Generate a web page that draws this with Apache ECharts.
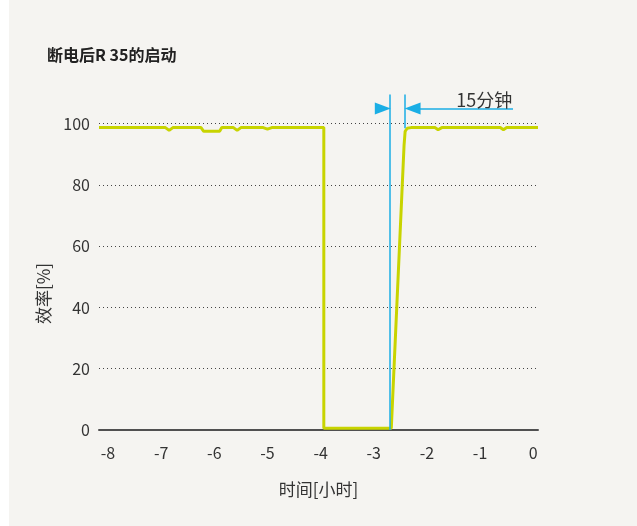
<!DOCTYPE html>
<html>
<head>
<meta charset="utf-8">
<script src="https://cdn.jsdelivr.net/npm/echarts@6/dist/echarts.min.js"></script>
<style>
  body { margin: 0; background: #fff; }
  #main { width: 637px; height: 526px; background: linear-gradient(to right, #fff 9px, #f5f4f1 9px); }
</style>
</head>
<body>
<div id="main"></div>
<script>
var chart = echarts.init(document.getElementById('main'));

// 效率曲线 (x = 时间[小时], y = 效率[%])
var timeHours = [-8.17, -6.92, -6.85, -6.78, -6.25, -6.2, -5.9, -5.86, -5.64, -5.57, -5.5, -5.08, -5.0, -4.92,
    -3.94, -3.94, -2.67, -2.43, -2.41, -2.37, -2.3, -1.85, -1.79, -1.72, -0.62, -0.56, -0.5, 0.09];
var efficiency = [98.7, 98.7, 97.8, 98.7, 98.7, 97.5, 97.5, 98.7, 98.7, 97.8, 98.7, 98.7, 98.2, 98.7,
    98.7, 0.6, 0.6, 93, 97.5, 98.5, 98.7, 98.7, 98.0, 98.7, 98.7, 98.0, 98.7, 98.7];

var xTicks = [-8, -7, -6, -5, -4, -3, -2, -1, 0];
var yTicks = [0, 20, 40, 60, 80, 100];

// 15分钟 标注
var markStart = -2.69;
var markEnd = -2.41;
var arrowY = 104.9;
var markTop = 109.5;
var markLabel = '15分钟';

var lineData = [];
for (var i = 0; i < timeHours.length; i++) {
    lineData.push([timeHours[i], efficiency[i]]);
}

var blue = '#1aaee5';
var font = '"Noto Sans CJK SC", "Noto Sans", sans-serif';

var option = {
    animation: false,
    textStyle: { fontFamily: font },
    title: {
        text: '断电后R 35的启动',
        left: 42,
        top: 42,
        textStyle: { fontSize: 16, fontWeight: 'bold', color: '#222', fontFamily: font }
    },
    grid: { left: 99, right: 99, top: 93, bottom: 96 },
    xAxis: {
        type: 'value',
        min: -8.17,
        max: 0.09,
        name: '时间[小时]',
        nameLocation: 'middle',
        nameGap: 51,
        nameTextStyle: { fontSize: 17, color: '#333' },
        axisLine: { show: true, onZero: false, lineStyle: { color: '#505050', width: 2 } },
        axisTick: { show: false, customValues: xTicks },
        splitLine: { show: false },
        axisLabel: { customValues: xTicks, fontSize: 16, color: '#333', margin: 15 }
    },
    yAxis: {
        type: 'value',
        min: 0,
        max: 110,
        name: '效率[%]',
        nameLocation: 'middle',
        nameGap: 39,
        nameTextStyle: { fontSize: 17, color: '#333', padding: [0, 64, 0, 0] },
        axisLine: { show: false },
        axisTick: { show: false, customValues: yTicks },
        axisLabel: { customValues: yTicks, fontSize: 16, color: '#333', margin: 9 },
        splitLine: { show: true, lineStyle: { color: '#444', type: [1, 3], width: 1 } }
    },
    series: [
        {
            type: 'line',
            data: lineData,
            symbol: 'none',
            lineStyle: { color: '#c8d400', width: 3 },
            z: 3,
            markLine: {
                silent: true,
                symbol: 'none',
                animation: false,
                label: { show: false },
                lineStyle: { color: blue, width: 1.5, type: 'solid' },
                data: [
                    [{ coord: [markStart, 0] }, { coord: [markStart, markTop] }],
                    [{ coord: [markEnd, 98.5] }, { coord: [markEnd, markTop] }],
                    [{ coord: [-2.97, arrowY], symbol: 'none' },
                     { coord: [markStart - 0.14, arrowY], symbol: 'triangle', symbolSize: [12, 16], symbolRotate: -90 }],
                    [{ coord: [-0.38, arrowY], symbol: 'none' },
                     { coord: [markEnd + 0.14, arrowY], symbol: 'triangle', symbolSize: [12, 16], symbolRotate: 90 }]
                ]
            },
            markPoint: {
                silent: true,
                symbol: 'rect',
                symbolSize: 0,
                label: { show: true, formatter: markLabel, fontSize: 18, color: '#333', fontFamily: font },
                data: [{ coord: [-0.92, 107.7] }]
            }
        }
    ]
};

chart.setOption(option);
</script>
</body>
</html>
